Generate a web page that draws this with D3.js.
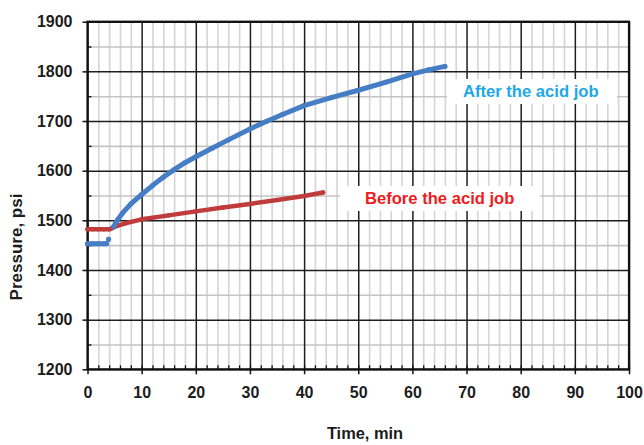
<!DOCTYPE html>
<html>
<head>
<meta charset="utf-8">
<script src="https://cdn.jsdelivr.net/npm/d3@7"></script>
<style>
  html, body { margin: 0; padding: 0; background: #fff; }
  svg { display: block; }
  text { font-family: "Liberation Sans", Arial, sans-serif; font-weight: bold; }
</style>
</head>
<body>
<svg id="chart" width="644" height="445"></svg>
<script>
// ---- Data ----
const xTicks = [0, 10, 20, 30, 40, 50, 60, 70, 80, 90, 100];
const yTicks = [1200, 1300, 1400, 1500, 1600, 1700, 1800, 1900];
const xTitle = "Time, min";
const yTitle = "Pressure, psi";
const afterLabel = "After the acid job";
const beforeLabel = "Before the acid job";

// After the acid job (null = gap in the recording)
const afterTime =     [0, 1, 2, 3, 3.5, 3.7, 3.9, 4.3, 4.8, 5.5, 6.5, 8, 10, 12, 14, 16, 18, 20, 23, 26, 30, 33, 36, 40, 45, 50, 55, 60, 63, 66];
const afterPressure = [1453, 1453, 1453, 1453, 1453, null, 1462, null, 1487, 1500, 1515, 1533, 1552, 1570, 1587, 1602, 1616, 1628, 1645, 1662, 1684, 1699, 1713, 1731, 1747, 1762, 1778, 1795, 1803, 1810];

// Before the acid job
const beforeTime =     [0, 1, 2, 3, 4, 4.5, 5.5, 7, 10, 15, 20, 25, 30, 35, 40, 43.5];
const beforePressure = [1482, 1482, 1482, 1482, 1482, 1484, 1489, 1494, 1502, 1510, 1518, 1526, 1533, 1541, 1549, 1556];

// ---- Layout ----
const svg = d3.select("#chart");
const pL = 87.5, pR = 629, pT = 21.7, pB = 369.3;
const W = pR - pL, H = pB - pT;

const x = d3.scaleLinear().domain([0, 100]).range([pL, pR]);
const y = d3.scaleLinear().domain([1200, 1900]).range([pB, pT]);

const xMinor = d3.range(0, 100.001, 2);
const yMinor = d3.range(1250, 1900, 100);

function clean(g) { g.select(".domain").remove(); }

// minor vertical grid
svg.append("g").attr("transform", `translate(0,${pB})`)
  .call(d3.axisBottom(x).tickValues(xMinor.filter(v => v % 10 !== 0)).tickSize(-H).tickFormat(""))
  .call(clean)
  .selectAll("line").attr("stroke", "#d4d4d4").attr("stroke-width", 1.6);

// minor horizontal grid
svg.append("g").attr("transform", `translate(${pL},0)`)
  .call(d3.axisLeft(y).tickValues(yMinor).tickSize(-W).tickFormat(""))
  .call(clean)
  .selectAll("line").attr("stroke", "#c4c4c4").attr("stroke-width", 1.6);

// major vertical grid
svg.append("g").attr("transform", `translate(0,${pB})`)
  .call(d3.axisBottom(x).tickValues(xTicks).tickSize(-H).tickFormat(""))
  .call(clean)
  .selectAll("line").attr("stroke", "#1e1e1e").attr("stroke-width", 1.5);

// major horizontal grid
svg.append("g").attr("transform", `translate(${pL},0)`)
  .call(d3.axisLeft(y).tickValues(yTicks).tickSize(-W).tickFormat(""))
  .call(clean)
  .selectAll("line").attr("stroke", "#1e1e1e").attr("stroke-width", 1.5);

// legend backgrounds (white boxes over grid)
svg.append("rect").attr("x", 447).attr("y", 79).attr("width", 170).attr("height", 25).attr("fill", "#fff");
svg.append("rect").attr("x", 340).attr("y", 186).attr("width", 200).attr("height", 25).attr("fill", "#fff");

// minor inward ticks
svg.append("g").attr("transform", `translate(0,${pB})`)
  .call(d3.axisBottom(x).tickValues(xMinor).tickSize(-4).tickFormat(""))
  .call(clean)
  .selectAll("line").attr("stroke", "#111").attr("stroke-width", 1.3);
svg.append("g").attr("transform", `translate(${pL},0)`)
  .call(d3.axisLeft(y).tickValues(yMinor).tickSize(-4).tickFormat(""))
  .call(clean)
  .selectAll("line").attr("stroke", "#111").attr("stroke-width", 1.3);

// main axes with labels
const xAxis = svg.append("g").attr("transform", `translate(0,${pB})`)
  .call(d3.axisBottom(x).tickValues(xTicks).tickSize(5).tickPadding(12.5).tickFormat(d3.format("d")));
xAxis.select(".domain").remove();
xAxis.selectAll("line").attr("stroke", "#111").attr("stroke-width", 1.5);
xAxis.selectAll("text").attr("font-size", 16).attr("fill", "#1c1c1c")
  .style("font-family", '"Liberation Sans", Arial, sans-serif').style("font-weight", "bold");

const yAxis = svg.append("g").attr("transform", `translate(${pL},0)`)
  .call(d3.axisLeft(y).tickValues(yTicks).tickSize(5).tickPadding(10).tickFormat(d3.format("d")));
yAxis.select(".domain").remove();
yAxis.selectAll("line").attr("stroke", "#111").attr("stroke-width", 1.5);
yAxis.selectAll("text").attr("font-size", 16).attr("fill", "#1c1c1c")
  .style("font-family", '"Liberation Sans", Arial, sans-serif').style("font-weight", "bold");

// plot border
svg.append("rect").attr("x", pL).attr("y", pT).attr("width", W).attr("height", H)
  .attr("fill", "none").attr("stroke", "#111").attr("stroke-width", 2.2);

// ---- Series ----
const afterData = afterTime.map((t, i) => ({ t, p: afterPressure[i] }));
const beforeData = beforeTime.map((t, i) => ({ t, p: beforePressure[i] }));

const line = d3.line().defined(d => d.p != null).x(d => x(d.t)).y(d => y(d.p));

function drawSeries(data, color, w) {
  svg.append("path").datum(data).attr("d", line)
    .attr("fill", "none").attr("stroke", color).attr("stroke-width", w)
    .attr("stroke-linecap", "round").attr("stroke-linejoin", "round");
  svg.append("g").selectAll("circle").data(data.filter(d => d.p != null)).join("circle")
    .attr("cx", d => x(d.t)).attr("cy", d => y(d.p)).attr("r", w / 2).attr("fill", color);
}
drawSeries(beforeData, "#c03c3c", 4.5);
drawSeries(afterData, "#467ec6", 5);

// ---- Labels ----
svg.append("text").attr("x", 463).attr("y", 97).attr("font-size", 16.6).attr("fill", "#1ea8e8").text(afterLabel);
svg.append("text").attr("x", 365).attr("y", 203.5).attr("font-size", 16.6).attr("fill", "#ee1c1c").text(beforeLabel);

svg.append("text").attr("x", 365).attr("y", 439).attr("text-anchor", "middle")
  .attr("font-size", 16.4).attr("fill", "#1c1c1c").text(xTitle);
svg.append("text").attr("transform", "translate(22,247) rotate(-90)").attr("text-anchor", "middle")
  .attr("font-size", 17).attr("fill", "#1c1c1c").text(yTitle);
</script>
</body>
</html>
